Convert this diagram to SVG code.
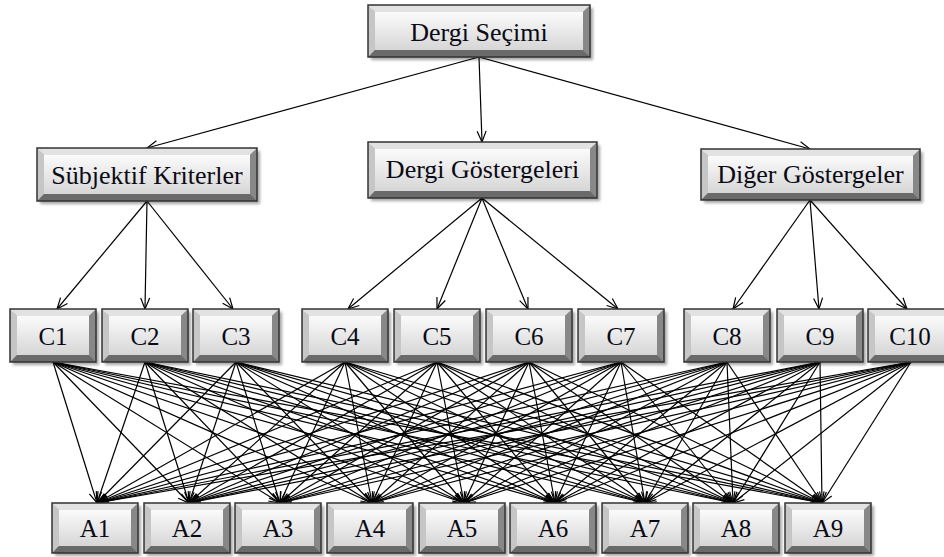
<svg xmlns="http://www.w3.org/2000/svg" xmlns:xlink="http://www.w3.org/1999/xlink" width="944" height="557" viewBox="0 0 944 557">
<style>
.bt{fill:#e2e2e2}
.bl{fill:#c6c6c6}
.br{fill:#888}
.bb{fill:#6a6a6a}
.f{fill:url(#face)}
.o{fill:none;stroke:#333;stroke-width:1.5}
.sh{fill:#000;opacity:.35;filter:url(#blur)}
text{font-family:'Liberation Serif','Times New Roman',Tinos,'DejaVu Serif',serif;font-size:26px;fill:#0a0a14;text-anchor:middle}
text.sm{font-size:25px}
#edges path{fill:none;stroke:#000;stroke-width:1.2;marker-end:url(#ah)}
</style>
<defs>
<linearGradient id="face" x1="0" y1="0" x2="0" y2="1">
<stop offset="0" stop-color="#fbfbfb"/>
<stop offset="1" stop-color="#d6d6d6"/>
</linearGradient>
<filter id="blur" x="-10%" y="-10%" width="120%" height="130%"><feGaussianBlur stdDeviation="1.5"/></filter>
<marker id="ah" markerUnits="userSpaceOnUse" markerWidth="13" markerHeight="11" refX="11" refY="4.5" orient="auto" viewBox="-1 -1 13 11">
<path d="M0,0 L11,4.5 L0,9" fill="none" stroke="#000" stroke-width="1.2"/>
</marker>
<g id="bc">
<rect class="sh" x="3" y="3" width="86" height="53"/>
<polygon class="bt" points="0,0 86,0 79,7 7,7"/>
<polygon class="bl" points="0,0 7,7 7,46 0,53"/>
<polygon class="br" points="86,0 86,53 79,46 79,7"/>
<polygon class="bb" points="0,53 86,53 79,46 7,46"/>
<rect class="f" x="7" y="7" width="72" height="39"/>
<rect class="o" x="0" y="0" width="86" height="53"/>
</g>
<g id="ba">
<rect class="sh" x="3" y="3" width="86" height="50"/>
<polygon class="bt" points="0,0 86,0 79,7 7,7"/>
<polygon class="bl" points="0,0 7,7 7,43 0,50"/>
<polygon class="br" points="86,0 86,50 79,43 79,7"/>
<polygon class="bb" points="0,50 86,50 79,43 7,43"/>
<rect class="f" x="7" y="7" width="72" height="36"/>
<rect class="o" x="0" y="0" width="86" height="50"/>
</g>
</defs>
<rect width="944" height="557" fill="#fff"/>
<g id="edges">
<path d="M479,57L147,148"/>
<path d="M479,57L482,142"/>
<path d="M479,57L810,149"/>
<path d="M147,201L57,309"/>
<path d="M147,201L145,309"/>
<path d="M147,201L233,309"/>
<path d="M482,198L348,309"/>
<path d="M482,198L437,309"/>
<path d="M482,198L528,309"/>
<path d="M482,198L618,309"/>
<path d="M810,200L733,309"/>
<path d="M810,200L819,309"/>
<path d="M810,200L907,309"/>
<path d="M53,362L97,503"/><path d="M53,362L189,503"/><path d="M53,362L280,503"/><path d="M53,362L372,503"/><path d="M53,362L464,503"/><path d="M53,362L555,503"/><path d="M53,362L645,503"/><path d="M53,362L733,503"/><path d="M53,362L822,503"/>
<path d="M145,362L97,503"/><path d="M145,362L189,503"/><path d="M145,362L280,503"/><path d="M145,362L372,503"/><path d="M145,362L464,503"/><path d="M145,362L555,503"/><path d="M145,362L645,503"/><path d="M145,362L733,503"/><path d="M145,362L822,503"/>
<path d="M236,362L97,503"/><path d="M236,362L189,503"/><path d="M236,362L280,503"/><path d="M236,362L372,503"/><path d="M236,362L464,503"/><path d="M236,362L555,503"/><path d="M236,362L645,503"/><path d="M236,362L733,503"/><path d="M236,362L822,503"/>
<path d="M345,362L97,503"/><path d="M345,362L189,503"/><path d="M345,362L280,503"/><path d="M345,362L372,503"/><path d="M345,362L464,503"/><path d="M345,362L555,503"/><path d="M345,362L645,503"/><path d="M345,362L733,503"/><path d="M345,362L822,503"/>
<path d="M437,362L97,503"/><path d="M437,362L189,503"/><path d="M437,362L280,503"/><path d="M437,362L372,503"/><path d="M437,362L464,503"/><path d="M437,362L555,503"/><path d="M437,362L645,503"/><path d="M437,362L733,503"/><path d="M437,362L822,503"/>
<path d="M529,362L97,503"/><path d="M529,362L189,503"/><path d="M529,362L280,503"/><path d="M529,362L372,503"/><path d="M529,362L464,503"/><path d="M529,362L555,503"/><path d="M529,362L645,503"/><path d="M529,362L733,503"/><path d="M529,362L822,503"/>
<path d="M621,362L97,503"/><path d="M621,362L189,503"/><path d="M621,362L280,503"/><path d="M621,362L372,503"/><path d="M621,362L464,503"/><path d="M621,362L555,503"/><path d="M621,362L645,503"/><path d="M621,362L733,503"/><path d="M621,362L822,503"/>
<path d="M727,362L97,503"/><path d="M727,362L189,503"/><path d="M727,362L280,503"/><path d="M727,362L372,503"/><path d="M727,362L464,503"/><path d="M727,362L555,503"/><path d="M727,362L645,503"/><path d="M727,362L733,503"/><path d="M727,362L822,503"/>
<path d="M820,362L97,503"/><path d="M820,362L189,503"/><path d="M820,362L280,503"/><path d="M820,362L372,503"/><path d="M820,362L464,503"/><path d="M820,362L555,503"/><path d="M820,362L645,503"/><path d="M820,362L733,503"/><path d="M820,362L822,503"/>
<path d="M911,362L97,503"/><path d="M911,362L189,503"/><path d="M911,362L280,503"/><path d="M911,362L372,503"/><path d="M911,362L464,503"/><path d="M911,362L555,503"/><path d="M911,362L645,503"/><path d="M911,362L733,503"/><path d="M911,362L822,503"/>
</g>
<g id="goal" transform="translate(368,5)">
<rect class="sh" x="3" y="3" width="222" height="52"/>
<polygon class="bt" points="0,0 222,0 215,7 7,7"/>
<polygon class="bl" points="0,0 7,7 7,45 0,52"/>
<polygon class="br" points="222,0 222,52 215,45 215,7"/>
<polygon class="bb" points="0,52 222,52 215,45 7,45"/>
<rect class="f" x="7" y="7" width="208" height="38"/>
<rect class="o" x="0" y="0" width="222" height="52"/>
<text x="111" y="36">Dergi Seçimi</text>
</g>
<g id="subjektif" transform="translate(37,148)">
<rect class="sh" x="3" y="3" width="220" height="53"/>
<polygon class="bt" points="0,0 220,0 213,7 7,7"/>
<polygon class="bl" points="0,0 7,7 7,46 0,53"/>
<polygon class="br" points="220,0 220,53 213,46 213,7"/>
<polygon class="bb" points="0,53 220,53 213,46 7,46"/>
<rect class="f" x="7" y="7" width="206" height="39"/>
<rect class="o" x="0" y="0" width="220" height="53"/>
<text x="110" y="36">Sübjektif Kriterler</text>
</g>
<g id="dergi" transform="translate(368,142)">
<rect class="sh" x="3" y="3" width="229" height="56"/>
<polygon class="bt" points="0,0 229,0 222,7 7,7"/>
<polygon class="bl" points="0,0 7,7 7,49 0,56"/>
<polygon class="br" points="229,0 229,56 222,49 222,7"/>
<polygon class="bb" points="0,56 229,56 222,49 7,49"/>
<rect class="f" x="7" y="7" width="215" height="42"/>
<rect class="o" x="0" y="0" width="229" height="56"/>
<text x="114.5" y="36">Dergi Göstergeleri</text>
</g>
<g id="diger" transform="translate(701,149)">
<rect class="sh" x="3" y="3" width="219" height="51"/>
<polygon class="bt" points="0,0 219,0 212,7 7,7"/>
<polygon class="bl" points="0,0 7,7 7,44 0,51"/>
<polygon class="br" points="219,0 219,51 212,44 212,7"/>
<polygon class="bb" points="0,51 219,51 212,44 7,44"/>
<rect class="f" x="7" y="7" width="205" height="37"/>
<rect class="o" x="0" y="0" width="219" height="51"/>
<text x="109.5" y="34">Diğer Göstergeler</text>
</g>
<g id="C1"><use xlink:href="#bc" x="10" y="309"/><text class="sm" x="53" y="345">C1</text></g>
<g id="C2"><use xlink:href="#bc" x="102" y="309"/><text class="sm" x="145" y="345">C2</text></g>
<g id="C3"><use xlink:href="#bc" x="193" y="309"/><text class="sm" x="236" y="345">C3</text></g>
<g id="C4"><use xlink:href="#bc" x="302" y="309"/><text class="sm" x="345" y="345">C4</text></g>
<g id="C5"><use xlink:href="#bc" x="394" y="309"/><text class="sm" x="437" y="345">C5</text></g>
<g id="C6"><use xlink:href="#bc" x="486" y="309"/><text class="sm" x="529" y="345">C6</text></g>
<g id="C7"><use xlink:href="#bc" x="578" y="309"/><text class="sm" x="621" y="345">C7</text></g>
<g id="C8"><use xlink:href="#bc" x="684" y="309"/><text class="sm" x="727" y="345">C8</text></g>
<g id="C9"><use xlink:href="#bc" x="777" y="309"/><text class="sm" x="820" y="345">C9</text></g>
<g id="C10"><use xlink:href="#bc" x="868" y="309"/><text class="sm" x="910" y="345">C10</text></g>
<g id="A1"><use xlink:href="#ba" x="52" y="503"/><text class="sm" x="95" y="537">A1</text></g>
<g id="A2"><use xlink:href="#ba" x="144" y="503"/><text class="sm" x="187" y="537">A2</text></g>
<g id="A3"><use xlink:href="#ba" x="235" y="503"/><text class="sm" x="278" y="537">A3</text></g>
<g id="A4"><use xlink:href="#ba" x="327" y="503"/><text class="sm" x="370" y="537">A4</text></g>
<g id="A5"><use xlink:href="#ba" x="419" y="503"/><text class="sm" x="462" y="537">A5</text></g>
<g id="A6"><use xlink:href="#ba" x="510" y="503"/><text class="sm" x="553" y="537">A6</text></g>
<g id="A7"><use xlink:href="#ba" x="602" y="503"/><text class="sm" x="645" y="537">A7</text></g>
<g id="A8"><use xlink:href="#ba" x="693" y="503"/><text class="sm" x="736" y="537">A8</text></g>
<g id="A9"><use xlink:href="#ba" x="785" y="503"/><text class="sm" x="828" y="537">A9</text></g>
</svg>
